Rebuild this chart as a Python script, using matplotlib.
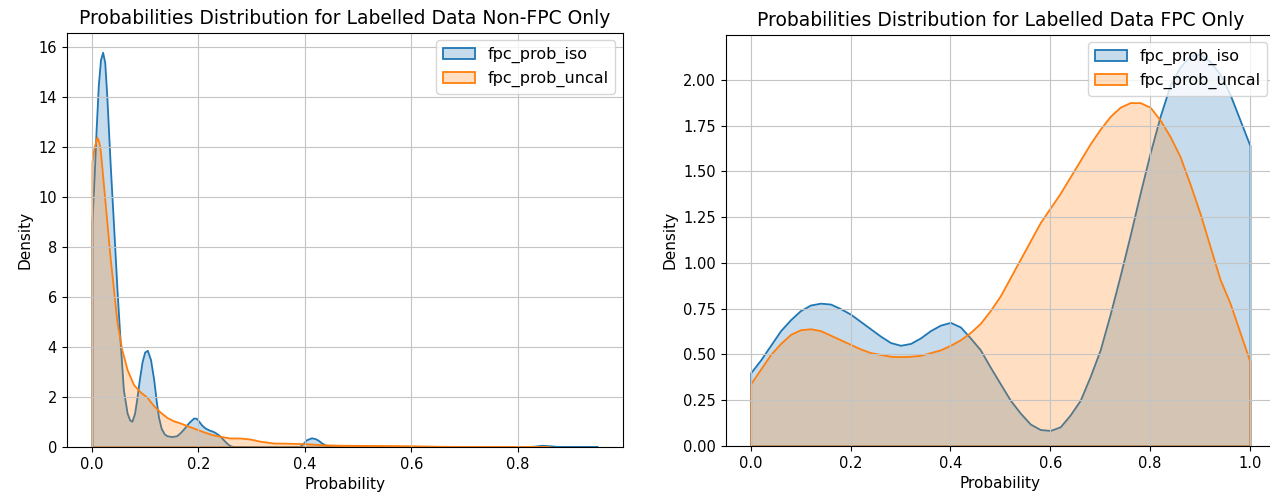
"""KDE-style density curves for calibrated vs uncalibrated FPC probabilities."""

import matplotlib

matplotlib.use("Agg")
import matplotlib.pyplot as plt
import numpy as np

# ---- Non-FPC panel ----
nonfpc_iso_x = [0.0, 0.004, 0.008, 0.012, 0.016, 0.020, 0.024, 0.028, 0.034, 0.041,
                0.047, 0.053, 0.059, 0.066, 0.071, 0.075, 0.080, 0.084, 0.089, 0.094,
                0.099, 0.104, 0.110, 0.116, 0.121, 0.125, 0.130, 0.136, 0.141, 0.150,
                0.159, 0.166, 0.172, 0.182, 0.191, 0.196, 0.200, 0.206, 0.2125, 0.220,
                0.228, 0.235, 0.241, 0.247, 0.253, 0.258, 0.263, 0.270, 0.300, 0.360,
                0.390, 0.397, 0.403, 0.4125, 0.420, 0.425, 0.431, 0.4375, 0.447, 0.460,
                0.600, 0.800, 0.830, 0.845, 0.860, 0.875, 0.900, 0.950]
nonfpc_iso_y = [9.0, 10.8, 12.8, 14.5, 15.5, 15.8, 15.4, 14.0, 11.4, 8.7,
                6.3, 4.2, 2.3, 1.36, 1.08, 1.03, 1.35, 1.9, 2.7, 3.4,
                3.8, 3.87, 3.5, 2.7, 1.8, 1.2, 0.75, 0.52, 0.45, 0.42,
                0.45, 0.58, 0.72, 0.98, 1.16, 1.15, 1.05, 0.88, 0.76, 0.68,
                0.62, 0.53, 0.43, 0.29, 0.16, 0.07, 0.03, 0.01, 0.003, 0.003,
                0.02, 0.15, 0.29, 0.37, 0.33, 0.27, 0.17, 0.09, 0.02, 0.003,
                0.002, 0.003, 0.03, 0.07, 0.05, 0.02, 0.015, 0.01]

nonfpc_uncal_x = [0.0, 0.004, 0.0094, 0.013, 0.016, 0.022, 0.028, 0.034, 0.041, 0.047,
                  0.056, 0.066, 0.078, 0.091, 0.103, 0.116, 0.128, 0.141, 0.153, 0.166,
                  0.178, 0.191, 0.203, 0.216, 0.229, 0.241, 0.259, 0.278, 0.297, 0.316,
                  0.341, 0.372, 0.403, 0.434, 0.466, 0.500, 0.550, 0.600, 0.650, 0.700,
                  0.750, 0.800, 0.860]
nonfpc_uncal_y = [11.4, 12.0, 12.4, 12.2, 11.8, 10.4, 9.0, 7.6, 6.2, 5.0,
                  3.9, 3.1, 2.5, 2.2, 2.0, 1.65, 1.4, 1.18, 1.05, 0.96,
                  0.86, 0.76, 0.66, 0.56, 0.48, 0.43, 0.36, 0.36, 0.32, 0.23,
                  0.16, 0.15, 0.13, 0.09, 0.07, 0.065, 0.06, 0.05, 0.03, 0.02,
                  0.015, 0.01, 0.005]

# ---- FPC panel ----
fpc_x = [0.00, 0.02, 0.04, 0.06, 0.08, 0.10, 0.12, 0.14, 0.16, 0.18,
         0.20, 0.22, 0.24, 0.26, 0.28, 0.30, 0.32, 0.34, 0.36, 0.38,
         0.40, 0.42, 0.44, 0.46, 0.48, 0.50, 0.52, 0.54, 0.56, 0.58,
         0.60, 0.62, 0.64, 0.66, 0.68, 0.70, 0.72, 0.74, 0.76, 0.78,
         0.80, 0.82, 0.84, 0.86, 0.88, 0.90, 0.92, 0.94, 0.96, 0.98, 1.00]
fpc_iso_y = [0.40, 0.47, 0.55, 0.63, 0.69, 0.74, 0.77, 0.78, 0.775, 0.75,
             0.72, 0.68, 0.64, 0.60, 0.565, 0.55, 0.56, 0.59, 0.63, 0.66,
             0.675, 0.65, 0.59, 0.525, 0.43, 0.34, 0.25, 0.18, 0.12, 0.09,
             0.085, 0.105, 0.17, 0.25, 0.38, 0.525, 0.72, 0.93, 1.15, 1.38,
             1.60, 1.80, 1.97, 2.07, 2.13, 2.14, 2.10, 2.03, 1.92, 1.78, 1.64]
fpc_uncal_y = [0.34, 0.42, 0.50, 0.56, 0.61, 0.635, 0.64, 0.63, 0.605, 0.58,
               0.555, 0.53, 0.51, 0.50, 0.49, 0.488, 0.49, 0.495, 0.51, 0.525,
               0.55, 0.58, 0.62, 0.67, 0.74, 0.82, 0.92, 1.02, 1.12, 1.22,
               1.30, 1.38, 1.47, 1.56, 1.65, 1.73, 1.80, 1.85, 1.875, 1.875,
               1.85, 1.78, 1.69, 1.58, 1.43, 1.27, 1.09, 0.91, 0.78, 0.62, 0.46]

series_names = ["fpc_prob_iso", "fpc_prob_uncal"]
colors = ["tab:blue", "tab:orange"]

plt.rcParams["xtick.labelsize"] = 10.5
plt.rcParams["ytick.labelsize"] = 10.5
plt.rcParams["grid.color"] = "#c4c4c4"


def density_fill(ax, x, y, color, label):
    x = np.asarray(x, dtype=float)
    y = np.asarray(y, dtype=float)
    face = matplotlib.colors.to_rgba(color, 0.25)
    ax.fill_between(x, 0, y, facecolor=face, edgecolor=color, lw=1.3, label=label)


fig = plt.figure(figsize=(12.7, 5), dpi=100)
ax1 = fig.add_axes([0.0525, 0.106, 0.438, 0.829])
ax2 = fig.add_axes([0.5714, 0.108, 0.4325, 0.823])

panels = [
    (ax1, [(nonfpc_iso_x, nonfpc_iso_y), (nonfpc_uncal_x, nonfpc_uncal_y)],
     "Probabilities Distribution for Labelled Data Non-FPC Only"),
    (ax2, [(fpc_x, fpc_iso_y), (fpc_x, fpc_uncal_y)],
     "Probabilities Distribution for Labelled Data FPC Only"),
]

for ax, curves, title in panels:
    for (xx, yy), nm, c in zip(curves, series_names, colors):
        density_fill(ax, xx, yy, c, nm)
    ax.set_ylim(bottom=0)
    ax.set_title(title, fontsize=13.5)
    ax.set_xlabel("Probability", fontsize=11)
    ax.set_ylabel("Density", fontsize=11)
    ax.grid(True)
    ax.legend(loc="upper right", fontsize=11.5)

ax1.set_yticks(np.arange(0, 17, 2))

fig.savefig("out.png", dpi=100)
